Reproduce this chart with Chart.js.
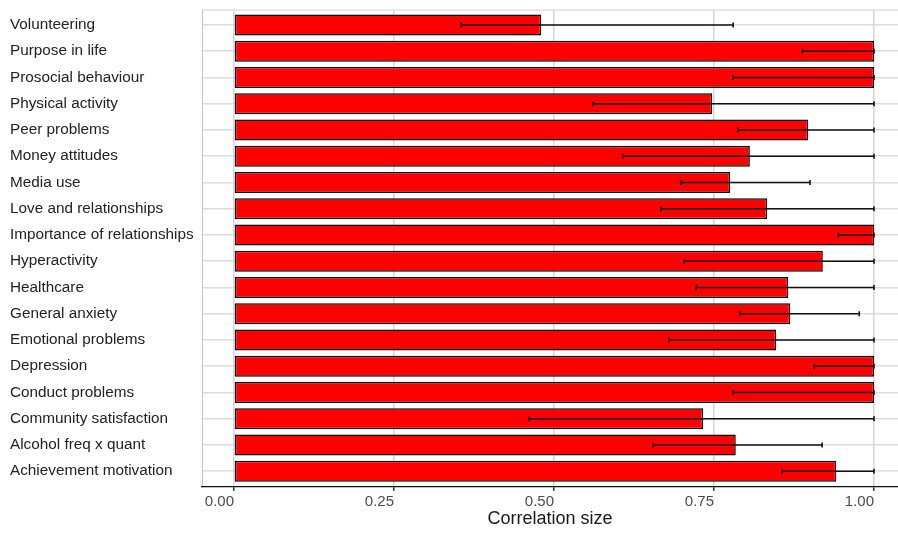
<!DOCTYPE html>
<html><head><meta charset="utf-8">
<script src="https://cdn.jsdelivr.net/npm/chart.js@4/dist/chart.umd.min.js"></script>
<style>html,body{margin:0;padding:0;background:#fff;} #wrap{width:898px;height:535px;}</style>
</head><body><div id="wrap"><canvas id="c" width="898" height="535"></canvas></div>
<script>
const categories = [
  'Volunteering', 'Purpose in life', 'Prosocial behaviour', 'Physical activity',
  'Peer problems', 'Money attitudes', 'Media use', 'Love and relationships',
  'Importance of relationships', 'Hyperactivity', 'Healthcare', 'General anxiety',
  'Emotional problems', 'Depression', 'Conduct problems', 'Community satisfaction',
  'Alcohol freq x quant', 'Achievement motivation'
];
const values = [0.48, 1.0, 1.0, 0.747, 0.897, 0.806, 0.775, 0.833, 1.0, 0.92, 0.866, 0.869, 0.847, 1.0, 1.0, 0.733, 0.784, 0.941];
const lower  = [0.355, 0.8875, 0.78, 0.561, 0.787, 0.608, 0.698, 0.667, 0.944, 0.703, 0.722, 0.79, 0.68, 0.906, 0.78, 0.461, 0.655, 0.856];
const upper  = [0.78, 1.0, 1.0, 1.0, 1.0, 1.0, 0.9, 1.0, 1.0, 1.0, 1.0, 0.977, 1.0, 1.0, 1.0, 1.0, 0.919, 1.0];
const xTicks = [0, 0.25, 0.5, 0.75, 1.0];
const xTitle = 'Correlation size';

const errorBars = {
  id: 'errorBars',
  beforeDatasetsDraw(chart) {
    const {ctx, chartArea} = chart;
    ctx.save();
    ctx.strokeStyle = '#e0e0e0';
    ctx.lineWidth = 1.5;
    ctx.beginPath();
    ctx.moveTo(chartArea.left, chartArea.top + 0.75);
    ctx.lineTo(chartArea.right, chartArea.top + 0.75);
    ctx.stroke();
    ctx.restore();
  },
  afterDatasetsDraw(chart) {
    const {ctx, scales: {x, y}} = chart;
    ctx.save();
    ctx.strokeStyle = '#111';
    ctx.lineWidth = 1.6;
    lower.forEach((lo, i) => {
      const py = y.getPixelForValue(i);
      const x1 = x.getPixelForValue(lo);
      const x2 = x.getPixelForValue(upper[i]);
      ctx.beginPath();
      ctx.moveTo(x1, py); ctx.lineTo(x2, py);
      ctx.moveTo(x1, py - 2.5); ctx.lineTo(x1, py + 2.5);
      ctx.moveTo(x2, py - 2.5); ctx.lineTo(x2, py + 2.5);
      ctx.stroke();
    });
    ctx.restore();
  }
};

new Chart(document.getElementById('c'), {
  type: 'bar',
  data: {
    datasets: [{
      data: values.map((v, i) => ({x: v, y: i})),
      backgroundColor: '#ff0000',
      borderColor: '#000',
      borderWidth: 1.5,
      borderSkipped: false,
      barPercentage: 0.8,
      categoryPercentage: 1.0
    }]
  },
  options: {
    indexAxis: 'y',
    responsive: false,
    animation: false,
    layout: {padding: {left: 10, top: 7, right: 0, bottom: 0}},
    plugins: {legend: {display: false}, tooltip: {enabled: false}},
    scales: {
      y: {
        type: 'linear',
        reverse: true,
        offset: false,
        min: -0.6,
        max: categories.length - 0.4,
        afterBuildTicks: s => { s.ticks = categories.map((c, i) => ({value: i})); },
        afterFit: s => { s.width = 192; },
        ticks: {
          callback: v => categories[v] ?? '',
          crossAlign: 'far',
          padding: 0,
          color: '#222',
          font: {family: 'Liberation Sans, Arial, sans-serif', size: 15.3}
        },
        grid: {color: '#dcdcdc', lineWidth: 1.5, drawTicks: false, offset: false},
        border: {color: '#c4c4c4', width: 1}
      },
      x: {
        type: 'linear',
        min: -0.05,
        max: 1.0375,
        afterBuildTicks: s => { s.ticks = xTicks.map(v => ({value: v})); },
        afterFit: s => { s.height = 48; },
        ticks: {
          callback: v => Number(v).toFixed(2),
          align: 'end',
          maxRotation: 0,
          padding: 2,
          color: '#4d4d4d',
          font: {family: 'Liberation Sans, Arial, sans-serif', size: 15}
        },
        grid: {color: '#d4d4d4', lineWidth: 1.5, tickLength: 4, tickColor: '#333', drawTicks: true},
        border: {color: '#111', width: 1.2},
        title: {
          display: true,
          text: xTitle,
          color: '#1a1a1a',
          padding: {top: 0, bottom: 5},
          font: {family: 'Liberation Sans, Arial, sans-serif', size: 18}
        }
      }
    }
  },
  plugins: [errorBars]
});
</script>
</body></html>
